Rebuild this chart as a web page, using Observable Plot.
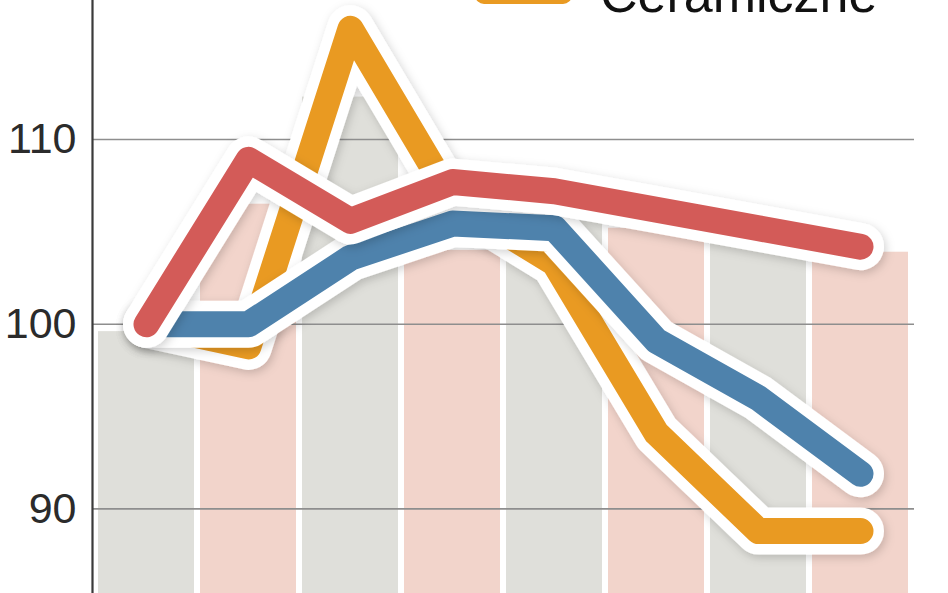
<!DOCTYPE html>
<html>
<head>
<meta charset="utf-8">
<script src="https://cdn.jsdelivr.net/npm/d3@7"></script>
<script src="https://cdn.jsdelivr.net/npm/@observablehq/plot@0.6"></script>
<style>
  html, body { margin: 0; padding: 0; background: #fff; }
  body { width: 948px; height: 593px; overflow: hidden; position: relative; font-family: "Liberation Sans", Arial, sans-serif; }
  #legend { position: absolute; left: 0; top: 0; width: 948px; height: 40px; overflow: hidden; z-index: 2; pointer-events: none; }
  .swatch { position: absolute; left: 475px; top: -26px; width: 97px; height: 30px; border-radius: 9px; }
  .label { position: absolute; left: 600px; top: -32px; font-size: 52px; line-height: 52px; color: #111; white-space: nowrap; }
  #chart { position: absolute; left: 0; top: 0; }
</style>
</head>
<body>
<div id="legend"></div>
<div id="chart"></div>
<script>
// ---- data ----
const periods = ["1", "2", "3", "4", "5", "6", "7", "8"];
const barValues = [99.6, 106.5, 112.3, 104, 105.6, 105.2, 104.4, 103.9];
const seriesNames = ["Ceramiczne", "Seria 2", "Seria 3"];
const ceramiczne = [100, 98.8, 116.0, 106.7, 103.3, 94.1, 88.8, 88.8];
const czerwona = [100, 108.9, 105.6, 107.7, 107.2, 106.2, 105.2, 104.2];
const niebieska = [100, 100, 103.6, 105.45, 105.2, 99.1, 96.0, 91.9];
const yTicks = [90, 100, 110];

const colors = { orange: "#E99A22", red: "#D35B58", blue: "#4E82AC" };
const barFills = ["#DFDFDA", "#F2D4CB"];

// ---- tables ----
const bars = periods.map((p, i) => ({ period: p, value: barValues[i], kind: i % 2 }));
const toRows = (vals) => periods.map((p, i) => ({ period: p, value: vals[i] }));
// drawing order bottom -> top: orange, blue, red
const layers = [
  { rows: toRows(ceramiczne), color: colors.orange },
  { rows: toRows(niebieska), color: colors.blue },
  { rows: toRows(czerwona), color: colors.red }
];

const lineMarks = [];
for (const l of layers) {
  lineMarks.push(Plot.line(l.rows, { x: "period", y: "value", stroke: "#fff", strokeWidth: 47, strokeLinejoin: "round", strokeLinecap: "round" }));
  lineMarks.push(Plot.line(l.rows, { x: "period", y: "value", stroke: l.color, strokeWidth: 26, strokeLinejoin: "round", strokeLinecap: "round" }));
}

const chart = Plot.plot({
  width: 948,
  height: 593,
  marginLeft: 92,
  marginRight: 34,
  marginTop: 0,
  marginBottom: 0,
  style: { fontFamily: "Liberation Sans, Arial, sans-serif", background: "transparent", overflow: "visible" },
  x: { type: "band", domain: periods, paddingInner: 0.0627, paddingOuter: 0.0588, axis: null },
  y: { domain: [85.42, 117.53], axis: null, label: null },
  marks: [
    Plot.barY(bars, { x: "period", y: "value", fill: (d) => barFills[d.kind], clip: true }),
    Plot.ruleY(yTicks, { stroke: "#8e8e8e", strokeWidth: 1.6 }),
    Plot.axisY({ ticks: yTicks, tickSize: 0, tickPadding: 16, fontSize: 43, fill: "#2b2b2b", label: null, tickFormat: (d) => String(d) }),
    Plot.frame({ anchor: "left", stroke: "#3a3a3a", strokeWidth: 2.2 }),
    ...lineMarks
  ]
});

// soft shadow under the white halos
const svg = d3.select(chart);
const defs = svg.insert("defs", ":first-child");
const f = defs.append("filter").attr("id", "haloShadow").attr("x", "-20%").attr("y", "-20%").attr("width", "140%").attr("height", "140%");
f.append("feDropShadow").attr("dx", 2).attr("dy", 3).attr("stdDeviation", 5).attr("flood-color", "#000").attr("flood-opacity", 0.18);
const lineGroups = svg.selectAll('g[aria-label="line"]').nodes();
lineGroups.forEach((g, i) => { if (i % 2 === 0) g.setAttribute("filter", "url(#haloShadow)"); });

document.getElementById("chart").appendChild(chart);

// legend (only the bottom of it is inside the picture, as in the reference)
const legend = document.getElementById("legend");
const sw = document.createElement("div");
sw.className = "swatch";
sw.style.background = colors.orange;
legend.appendChild(sw);
const lb = document.createElement("div");
lb.className = "label";
lb.textContent = seriesNames[0];
legend.appendChild(lb);
</script>
</body>
</html>
